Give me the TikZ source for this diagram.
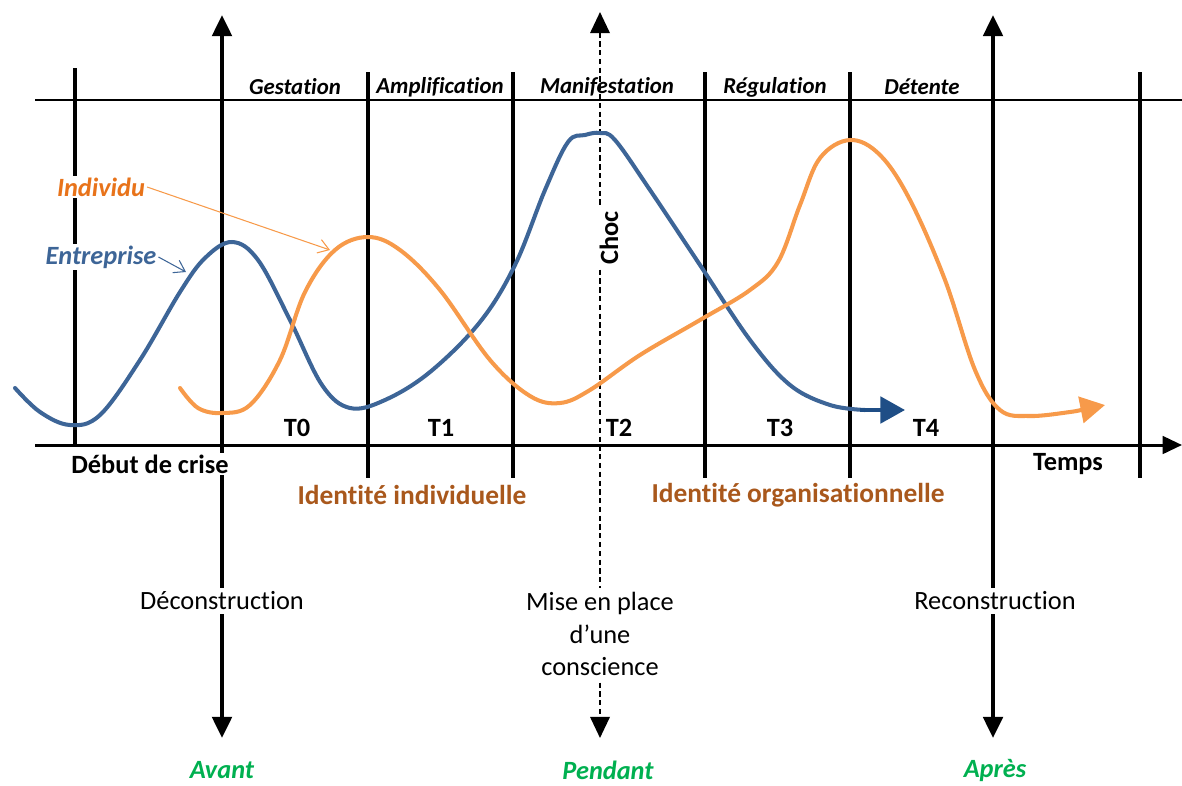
\documentclass[tikz,border=0pt]{standalone}
\usepackage{fontspec}
\setmainfont{Carlito}[Ligatures=NoCommon]
\usepackage{xcolor}
\usetikzlibrary{arrows.meta, positioning}

\definecolor{bleu}{HTML}{3D6597}
\definecolor{bleufonce}{HTML}{1F4E86}
\definecolor{orange}{HTML}{F79A4A}
\definecolor{orangetxt}{HTML}{E8731A}
\definecolor{brun}{HTML}{A9581C}
\definecolor{vert}{HTML}{00B050}

\tikzset{
  phase/.style={font=\fontsize{13}{15}\selectfont\bfseries\itshape},
  etiq/.style={font=\fontsize{15}{17}\selectfont\bfseries},
  identite/.style={font=\fontsize{15.6}{18}\selectfont\bfseries, text=brun},
  texte/.style={font=\fontsize{15}{18.7}\selectfont, align=center, fill=white, inner sep=2pt},
  periode/.style={font=\fontsize{15}{17}\selectfont\bfseries\itshape, text=vert},
  courbe/.style={line width=2.3pt, line cap=round, smooth, tension=0.6},
  grosse/.style={line width=2.3pt, {Triangle[length=12pt,width=11pt]}-{Triangle[length=12pt,width=11pt]}},
}

\begin{document}
\begin{tikzpicture}[x=0.02cm, y=-0.02cm]
    \useasboundingbox (0,0) rectangle (1182,785);

    % 1. Les deux lignes horizontales
    \draw[line width=0.8pt] (35,100) -- (1182,100);
    \draw[line width=1.7pt, -{Triangle[length=11pt,width=10pt]}] (35,445) -- (1182,445);

    % Les traits verticaux
    \draw[line width=2.6pt] (75,68) -- (75,445);
    \foreach \x in {368, 513, 705, 850} \draw[line width=1.8pt] (\x,72) -- (\x,478);
    \draw[line width=2.6pt] (1140,72) -- (1140,478);

    % Les trois grandes fleches
    \foreach \x in {222, 993} \draw[grosse] (\x,15) -- (\x,738);
    \draw[grosse, line width=1.4pt, densely dashed] (600,12) -- (600,738);

    % 2. Courbe de l'entreprise (bleu)
    \draw[courbe, bleu] plot coordinates {(15,388) (40,412) (70,425) (100,415) (140,360)
      (180,292) (205,258) (232,242) (258,260) (290,320) (322,385) (350,408) (385,400)
      (430,372) (480,322) (515,265) (545,190) (568,142) (585,135) (600,133) (615,140)
      (650,190) (700,265) (750,340) (790,385) (830,405) (865,410)};
    \draw[line width=2.3pt, bleufonce, -{Triangle[length=14pt,width=15pt]}] (860,410) -- (905,410);

    % Courbe de l'individu (orange)
    \draw[courbe, orange] plot coordinates {(180,388) (198,408) (222,413) (250,405) (280,360)
      (305,292) (335,250) (368,237) (400,250) (440,290) (490,360) (530,396) (560,403)
      (590,390) (640,355) (700,320) (750,290) (778,262) (800,205) (820,158) (850,140)
      (880,155) (910,200) (945,280) (975,370) (1000,410) (1030,416) (1070,412) (1085,409)};
    \draw[line width=2.3pt, orange, -{Triangle[length=14pt,width=15pt]}] (1080,410) -- (1105,405);

    % 3. Phases
    \node[phase] (gest) at (295,87) {Gestation};
    \node[phase] (ampl) at (440,87) {Amplification};
    \node[phase] (mani) at (607,87) {Manifestation};
    \node[phase] (regu) at (775,87) {Régulation};
    \node[phase] (dete) at (922,87) {Détente};

    % Temps T0 ... T4
    \node[etiq] (t0) at (297,428) {T0};
    \node[etiq] (t1) at (441,428) {T1};
    \node[etiq] (t2) at (619,428) {T2};
    \node[etiq] (t3) at (780,428) {T3};
    \node[etiq] (t4) at (926,428) {T4};

    \node[etiq, fill=white, inner sep=1pt] (debut) at (150,464) {Début de crise};
    \node[etiq] (temps) at (1068,464) {Temps};
    \node[identite] (idind) at (412,495) {Identité individuelle};
    \node[identite] (idorg) at (798,495) {Identité organisationnelle};
    \node[etiq, rotate=90, fill=white, inner sep=2pt] (choc) at (609,238) {Choc};

    % Legende des courbes
    \node[font=\fontsize{15}{17}\selectfont\bfseries\itshape, text=orangetxt, fill=white, inner sep=1pt] (individu) at (101,187) {Individu};
    \node[font=\fontsize{15}{17}\selectfont\bfseries\itshape, text=bleu, fill=white, inner sep=1pt] (entreprise) at (101,257) {Entreprise};
    \coordinate (picind) at (330,250);
    \coordinate (picent) at (186,272);
    \draw[orange, line width=0.6pt, -{Straight Barb[length=6pt,width=8pt]}] (individu.east) -- (picind);
    \draw[bleu, line width=0.6pt, -{Straight Barb[length=6pt,width=8pt]}] (entreprise.east) -- (picent);

    % 4. Textes du bas
    \node[texte] (decons) at (222,601) {Déconstruction};
    \node[texte] (conscience) at (600,634) {Mise en place\\d{\char"27}une\\conscience};
    \node[texte] (recons) at (995,601) {Reconstruction};

    \node[periode] (avant) at (222,770) {Avant};
    \node[periode] (pendant) at (608,770) {Pendant};
    \node[periode] (apres) at (995,770) {Après};
\end{tikzpicture}
\end{document}
